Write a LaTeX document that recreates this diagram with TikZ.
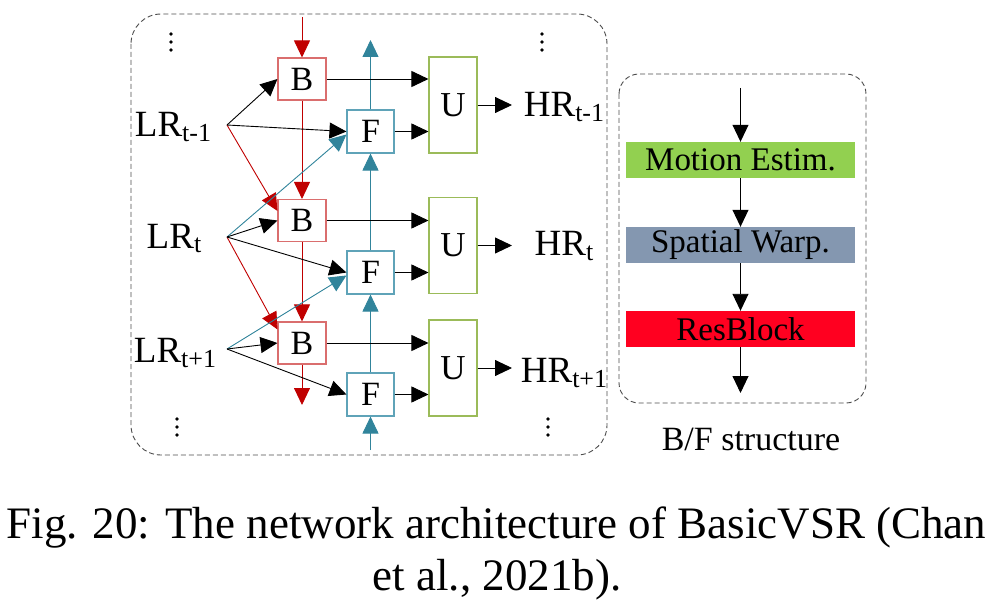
\documentclass[tikz,border=0pt]{standalone}
\usepackage{fontspec}
\setmainfont{Liberation Serif}
\usetikzlibrary{arrows.meta}
\definecolor{bred}{HTML}{C00000}
\definecolor{bbord}{HTML}{DA6E6E}
\definecolor{tealc}{HTML}{31849B}
\definecolor{fbord}{HTML}{5FA3B8}
\definecolor{ugreen}{HTML}{9BBB59}
\definecolor{meg}{HTML}{92D050}
\definecolor{swb}{HTML}{8497B0}
\definecolor{rbr}{HTML}{FF0020}
\newcommand{\sbs}[1]{\raisebox{-5pt}{\fontsize{26}{26}\selectfont #1}}
\begin{document}
\begin{tikzpicture}[x=1pt,y=-1pt,
  tipk/.style={-{Triangle[length=17pt,width=16pt]}},
  ln/.style={line width=0.9pt},
  bbox/.style={draw=bbord,fill=white,line width=1.1pt,minimum width=48pt,minimum height=42pt,inner sep=0pt,font=\fontsize{34}{34}\selectfont},
  fbox/.style={draw=fbord,fill=white,line width=1.1pt,minimum width=47pt,minimum height=43pt,inner sep=0pt,font=\fontsize{34}{34}\selectfont},
  ubox/.style={draw=ugreen,fill=white,line width=1.1pt,minimum width=48pt,minimum height=96pt,inner sep=0pt,font=\fontsize{35}{35}\selectfont},
  lbl/.style={anchor=base,inner sep=0pt,font=\fontsize{37}{37}\selectfont},
  sbox/.style={minimum width=229pt,minimum height=36pt,inner sep=0pt,font=\fontsize{33}{33}\selectfont},
  frame/.style={draw=black!70,dash pattern=on 5pt off 3pt,line width=0.9pt},
  dotc/.style={fill=black},
]
\useasboundingbox (0,0) rectangle (997,607);
% frames
\draw[frame,rounded corners=30pt] (131,14) rectangle (607,455);
\draw[frame,rounded corners=20pt] (619,74) rectangle (866,403);

% blocks
\node[bbox] (B1) at (302,79) {B};
\node[bbox] (B2) at (302,220.5) {B};
\node[bbox] (B3) at (302,343) {B};
\node[fbox] (F1) at (370.5,131.5) {F};
\node[fbox] (F2) at (370.5,272.5) {F};
\node[fbox] (F3) at (370.5,394.5) {F};
\node[ubox] (U1) at (453,105) {U};
\node[ubox] (U2) at (453,245.5) {U};
\node[ubox] (U3) at (453,368) {U};

% labels
\node[lbl] (L1) at (173,137) {LR\sbs{t-1}};
\node[lbl] (L2) at (174,248) {LR\sbs{t}};
\node[lbl] (L3) at (175,362) {LR\sbs{t+1}};
\node[lbl] (H1) at (564,117) {HR\sbs{t-1}};
\node[lbl] (H2) at (564,255) {HR\sbs{t}};
\node[lbl] (H3) at (564,382) {HR\sbs{t+1}};

\coordinate (o1) at (227,125);
\coordinate (o2) at (227,237);
\coordinate (o3) at (227,349);
\coordinate (rtop) at (302,17);
\coordinate (rbot) at (302,405);
\coordinate (ttop) at (370.5,40);
\coordinate (tbot) at (370.5,450);
\coordinate (h1) at (512,105);
\coordinate (h2) at (512,245.5);
\coordinate (h3) at (512,368);

% red backward chain
\draw[ln,bred,tipk] (rtop) -- (B1.north);
\draw[ln,bred,tipk] (B1.south) -- (B2.north);
\draw[ln,bred,tipk] (B2.south) -- (B3.north);
\draw[ln,bred,tipk] (B3.south) -- (rbot);
% teal forward chain
\draw[ln,tealc,tipk] (tbot) -- (F3.south);
\draw[ln,tealc,tipk] (F3.north) -- (F2.south);
\draw[ln,tealc,tipk] (F2.north) -- (F1.south);
\draw[ln,tealc,tipk] (F1.north) -- (ttop);

% inputs
\draw[ln,bred,tipk] (o1) -- ([yshift=-12pt]B2.north west);
\draw[ln,bred,tipk] (o2) -- ([yshift=-8pt]B3.north west);
\draw[ln,tealc,tipk] (o2) -- ([yshift=-3pt]F1.west);
\draw[ln,tealc,tipk] (o3) -- ([yshift=-3pt]F2.west);
\draw[ln,tipk] (o1) -- (B1.west);
\draw[ln,tipk] (o1) -- (F1.west);
\draw[ln,tipk] (o2) -- (B2.west);
\draw[ln,tipk] (o2) -- (F2.west);
\draw[ln,tipk] (o3) -- (B3.west);
\draw[ln,tipk] (o3) -- (F3.west);

% to U
\foreach \i in {1,2,3}{
  \draw[ln,tipk] (B\i.east) -- (B\i.east -| U\i.west);
  \draw[ln,tipk] (F\i.east) -- (F\i.east -| U\i.west);
  \draw[ln,tipk] (U\i.east) -- (h\i);
}

% dots
\foreach \x/\y in {171/34,542/34,177/419,548/419}{
  \fill[dotc] (\x,\y) circle (1.8pt);
  \fill[dotc] (\x,\y+8) circle (1.8pt);
  \fill[dotc] (\x,\y+16) circle (1.8pt);
}

% B/F structure panel
\node[sbox,fill=meg] (ME) at (740.5,160) {Motion Estim.};
\node[sbox,fill=swb] (SW) at (740.5,245) {Spatial Warp.};
\node[sbox,fill=rbr] (RB) at (740.5,329) {ResBlock};
\coordinate (a0) at (740.5,88);
\coordinate (a1) at (740.5,393);
\draw[ln,tipk] (a0) -- (ME.north);
\draw[ln,tipk] (ME.south) -- (SW.north);
\draw[ln,tipk] (SW.south) -- (RB.north);
\draw[ln,tipk] (RB.south) -- (a1);
\node[anchor=base,inner sep=0pt,font=\fontsize{34}{34}\selectfont] (BF) at (751,450) {B/F structure};

% caption
\node[anchor=base,inner sep=0pt,font=\fontsize{45}{52}\selectfont] (C1) at (496.5,538) {Fig. 20: The network architecture of BasicVSR (Chan};
\node[anchor=base,inner sep=0pt,font=\fontsize{45}{52}\selectfont] (C2) at (497,590) {et al., 2021b).};
\end{tikzpicture}
\end{document}
